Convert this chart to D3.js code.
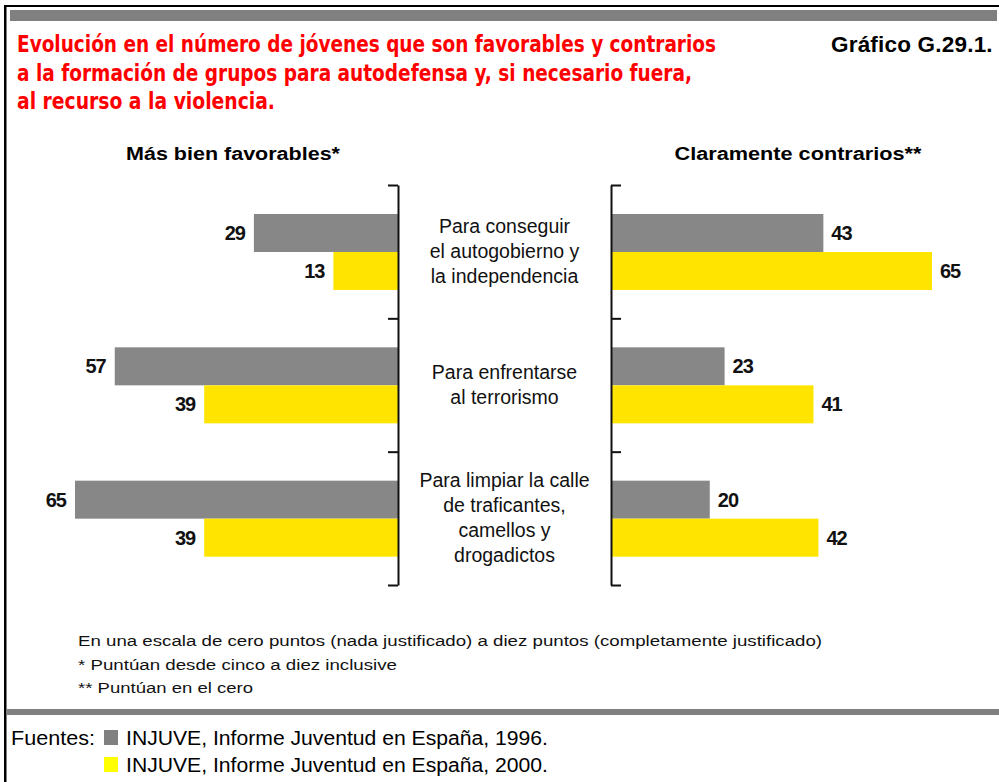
<!DOCTYPE html>
<html>
<head>
<meta charset="utf-8">
<script src="https://cdn.jsdelivr.net/npm/d3@7/dist/d3.min.js"></script>
<style>
  html, body { margin: 0; padding: 0; background: #fff; }
  svg { display: block; }
</style>
</head>
<body>
<div id="chart"></div>
<script>
// ---------- DATA ----------
const categories = [
  ["Para conseguir", "el autogobierno y", "la independencia"],
  ["Para enfrentarse", "al terrorismo"],
  ["Para limpiar la calle", "de traficantes,", "camellos y", "drogadictos"]
];
const series = ["1996", "2000"];
const favorables1996 = [29, 57, 65];
const favorables2000 = [13, 39, 39];
const contrarios1996 = [43, 23, 20];
const contrarios2000 = [65, 41, 42];
const titleLines = [
  "Evolución en el número de jóvenes que son favorables y contrarios",
  "a la formación de grupos para autodefensa y, si necesario fuera,",
  "al recurso a la violencia."
];
const chartCode = "Gráfico G.29.1.";
const panelTitles = ["Más bien favorables*", "Claramente contrarios**"];
const notes = [
  "En una escala de cero puntos (nada justificado) a diez puntos (completamente justificado)",
  "* Puntúan desde cinco a diez inclusive",
  "** Puntúan en el cero"
];
const sourcesLabel = "Fuentes:";
const sources = [
  "INJUVE, Informe Juventud en España, 1996.",
  "INJUVE, Informe Juventud en España, 2000."
];

// ---------- SETUP ----------
const W = 999, H = 782;
const colors = { "1996": "#878787", "2000": "#ffe400" };
const svg = d3.select("#chart").append("svg").attr("width", W).attr("height", H);
const narrow = "'Liberation Sans Narrow','Arial Narrow','DejaVu Sans Condensed','Liberation Sans',Arial,sans-serif";
const sans = "'Liberation Sans',Arial,Helvetica,sans-serif";

// frame
svg.append("rect").attr("x", 4).attr("y", 5).attr("width", W).attr("height", 2).attr("fill", "#000");
svg.append("rect").attr("x", 4).attr("y", 5).attr("width", 2.5).attr("height", H).attr("fill", "#000");
svg.append("rect").attr("x", 10).attr("y", 10).attr("width", 987).attr("height", 11).attr("fill", "#808080");
svg.append("rect").attr("x", 7).attr("y", 709).attr("width", W).attr("height", 6).attr("fill", "#808080");

// title
const titleLens = [699, 675, 258];
svg.selectAll("text.title").data(titleLines).join("text")
  .attr("class", "title")
  .attr("x", 17).attr("y", (d, i) => 52 + i * 28.5)
  .attr("font-family", narrow).attr("font-weight", "bold").attr("font-size", 23)
  .attr("fill", "#ff0000")
  .attr("textLength", (d, i) => titleLens[i]).attr("lengthAdjust", "spacingAndGlyphs")
  .text(d => d);
svg.append("text").attr("x", 831).attr("y", 52)
  .attr("font-family", sans).attr("font-weight", "bold").attr("font-size", 22.5)
  .attr("letter-spacing", 0.2)
  .attr("fill", "#000")
  .text(chartCode);

// ---------- SCALES ----------
const y = d3.scaleBand().domain(d3.range(categories.length)).range([185, 585]).padding(0);
const ySub = d3.scaleBand().domain(series).range([29, 105]).padding(0);
const yIdx = d3.scaleLinear().domain([0, categories.length]).range([185, 585]);
const xL = d3.scaleLinear().domain([0, 65]).range([398, 75]);
const xR = d3.scaleLinear().domain([0, 65]).range([611, 932]);

const leftData = [];
const rightData = [];
categories.forEach((c, i) => {
  leftData.push({ g: i, s: "1996", v: favorables1996[i] });
  leftData.push({ g: i, s: "2000", v: favorables2000[i] });
  rightData.push({ g: i, s: "1996", v: contrarios1996[i] });
  rightData.push({ g: i, s: "2000", v: contrarios2000[i] });
});

// bars left
svg.append("g").selectAll("rect").data(leftData).join("rect")
  .attr("x", d => xL(d.v)).attr("width", d => xL(0) - xL(d.v))
  .attr("y", d => y(d.g) + ySub(d.s)).attr("height", ySub.bandwidth())
  .attr("fill", d => colors[d.s]);
// bars right
svg.append("g").selectAll("rect").data(rightData).join("rect")
  .attr("x", xR(0)).attr("width", d => xR(d.v) - xR(0))
  .attr("y", d => y(d.g) + ySub(d.s)).attr("height", ySub.bandwidth())
  .attr("fill", d => colors[d.s]);

// value labels
const valStyle = sel => sel.attr("font-family", sans).attr("font-weight", "bold")
  .attr("font-size", 20).attr("letter-spacing", -1).attr("fill", "#111")
  .attr("dominant-baseline", "central");
svg.append("g").selectAll("text").data(leftData).join("text")
  .call(valStyle)
  .attr("x", d => xL(d.v) - 9).attr("y", d => y(d.g) + ySub(d.s) + ySub.bandwidth() / 2)
  .attr("text-anchor", "end").text(d => d.v);
svg.append("g").selectAll("text").data(rightData).join("text")
  .call(valStyle)
  .attr("x", d => xR(d.v) + 8).attr("y", d => y(d.g) + ySub(d.s) + ySub.bandwidth() / 2)
  .attr("text-anchor", "start").text(d => d.v);

// axes
const axL = svg.append("g").attr("transform", `translate(${xL(0)},0)`)
  .call(d3.axisLeft(yIdx).tickValues(d3.range(categories.length + 1)).tickSize(10).tickSizeOuter(0).tickFormat(""));
const axR = svg.append("g").attr("transform", `translate(${xR(0)},0)`)
  .call(d3.axisRight(yIdx).tickValues(d3.range(categories.length + 1)).tickSize(10).tickSizeOuter(0).tickFormat(""));
[axL, axR].forEach(a => {
  a.selectAll("path,line").attr("stroke", "#111").attr("stroke-width", 2);
});

// category labels
const cx = (xL(0) + xR(0)) / 2;
const lh = 25;
categories.forEach((lines, i) => {
  const mid = y(i) + y.bandwidth() / 2;
  const first = mid + 6 - (lines.length - 1) * lh / 2;
  svg.append("g").selectAll("text").data(lines).join("text")
    .attr("x", cx).attr("y", (d, j) => first + j * lh)
    .attr("text-anchor", "middle")
    .attr("font-family", sans).attr("font-size", 19.5).attr("fill", "#111")
    .text(d => d);
});

// panel titles
const ptCenter = [233, 798];
const ptLen = [214, 247];
svg.selectAll("text.pt").data(panelTitles).join("text")
  .attr("class", "pt")
  .attr("x", (d, i) => ptCenter[i]).attr("y", 160)
  .attr("text-anchor", "middle")
  .attr("font-family", sans).attr("font-weight", "bold").attr("font-size", 18)
  .attr("fill", "#000")
  .attr("textLength", (d, i) => ptLen[i]).attr("lengthAdjust", "spacingAndGlyphs")
  .text(d => d);

// notes
const noteLens = [744, 319, 175];
svg.selectAll("text.note").data(notes).join("text")
  .attr("class", "note")
  .attr("x", 78).attr("y", (d, i) => 646 + i * 23.5)
  .attr("font-family", sans).attr("font-size", 15.5).attr("fill", "#111")
  .attr("textLength", (d, i) => noteLens[i]).attr("lengthAdjust", "spacingAndGlyphs")
  .text(d => d);

// sources
svg.append("text").attr("x", 11).attr("y", 745)
  .attr("font-family", sans).attr("font-size", 20).attr("fill", "#000")
  .attr("textLength", 84).attr("lengthAdjust", "spacingAndGlyphs")
  .text(sourcesLabel);
const src = svg.append("g").selectAll("g").data(series).join("g")
  .attr("transform", (d, i) => `translate(0,${i * 27})`);
src.append("rect").attr("x", 104).attr("y", 730).attr("width", 14).attr("height", 15)
  .attr("fill", d => d === "1996" ? "#808080" : "#ffff00");
src.append("text").attr("x", 126).attr("y", 745)
  .attr("font-family", sans).attr("font-size", 20).attr("fill", "#000")
  .attr("textLength", 422).attr("lengthAdjust", "spacingAndGlyphs")
  .text((d, i) => sources[i]);
</script>
</body>
</html>
